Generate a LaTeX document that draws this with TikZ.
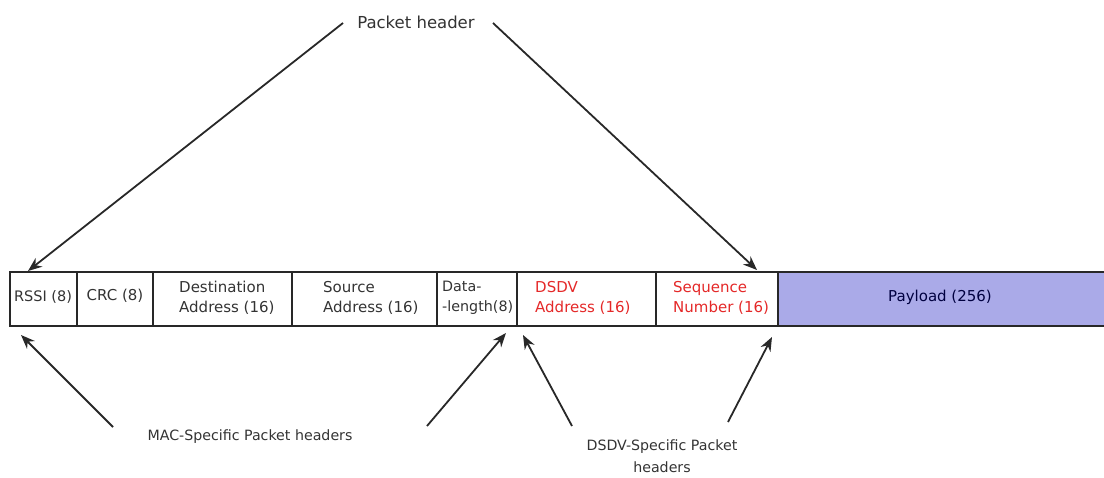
\documentclass[tikz,border=0pt]{standalone}
\usepackage{fontspec}
\setmainfont{DejaVu Sans}
\usetikzlibrary{arrows.meta}
\definecolor{payfill}{RGB}{170,170,232}
\definecolor{dsdvred}{RGB}{228,40,40}
\definecolor{inkc}{RGB}{40,40,40}
\begin{document}
\begin{tikzpicture}[x=1pt,y=-1pt,
 cell/.style={draw=inkc, line width=1.6pt, minimum height=54pt, anchor=north west, inner sep=0pt, outer sep=0pt},
 ctext/.style={font=\fontsize{15}{20}\selectfont, align=left, inner sep=0pt, anchor=west, text=black!80},
 lbl/.style={font=\fontsize{14.2}{22}\selectfont, align=center, inner sep=0pt, text=black!80},
 arr/.style={-{Stealth[length=14pt,width=11pt]}, line width=1.8pt, draw=inkc}]
\useasboundingbox (0,0) rectangle (1104,477);
% cells
\node[cell, minimum width=67pt] (rssi) at (10,272) {};
\node[cell, minimum width=76pt] (crc) at (77,272) {};
\node[cell, minimum width=139pt] (dest) at (153,272) {};
\node[cell, minimum width=145pt] (src) at (292,272) {};
\node[cell, minimum width=80pt] (dlen) at (437,272) {};
\node[cell, minimum width=139pt] (dsdv) at (517,272) {};
\node[cell, minimum width=122pt] (seq) at (656,272) {};
\node[cell, minimum width=327pt, fill=payfill] (pay) at (778,272) {};
% cell texts
\node[ctext, anchor=center, font=\fontsize{14.5}{20}\selectfont] (trssi) at (43,297) {RSSI (8)};
\node[ctext, anchor=center] (tcrc) at (115,296) {CRC (8)};
\node[ctext] (tdest) at (179,298) {Destination\\Address (16)};
\node[ctext] (tsrc) at (323,298) {Source\\Address (16)};
\node[ctext, font=\fontsize{14.3}{20}\selectfont] (tdlen) at (442,298) {Data-\\-length(8)};
\node[ctext, text=dsdvred] (tdsdv) at (535,298) {DSDV\\Address (16)};
\node[ctext, text=dsdvred] (tseq) at (673,298) {Sequence\\Number (16)};
\node[ctext, anchor=center, text=black!75!blue] (tpay) at (940,297) {Payload (256)};
% labels
\node[lbl, font=\fontsize{16.5}{20}\selectfont] (ph) at (416,22) {Packet header};
\node[lbl] (mac) at (250,437) {MAC-Specific Packet headers};
\node[lbl] (dsl) at (662,456) {DSDV-Specific Packet\\headers};
% arrow end points
\coordinate (a1s) at (343,23);
\coordinate (a1e) at (28,271);
\coordinate (a2s) at (493,23);
\coordinate (a2e) at (757,270);
\coordinate (b1s) at (113,427);
\coordinate (b1e) at (21,335);
\coordinate (b2s) at (427,426);
\coordinate (b2e) at (506,333);
\coordinate (c1s) at (572,426);
\coordinate (c1e) at (523,335);
\coordinate (c2s) at (728,422);
\coordinate (c2e) at (772,337);
\draw[arr] (a1s) -- (a1e);
\draw[arr] (a2s) -- (a2e);
\draw[arr] (b1s) -- (b1e);
\draw[arr] (b2s) -- (b2e);
\draw[arr] (c1s) -- (c1e);
\draw[arr] (c2s) -- (c2e);
\end{tikzpicture}
\end{document}
